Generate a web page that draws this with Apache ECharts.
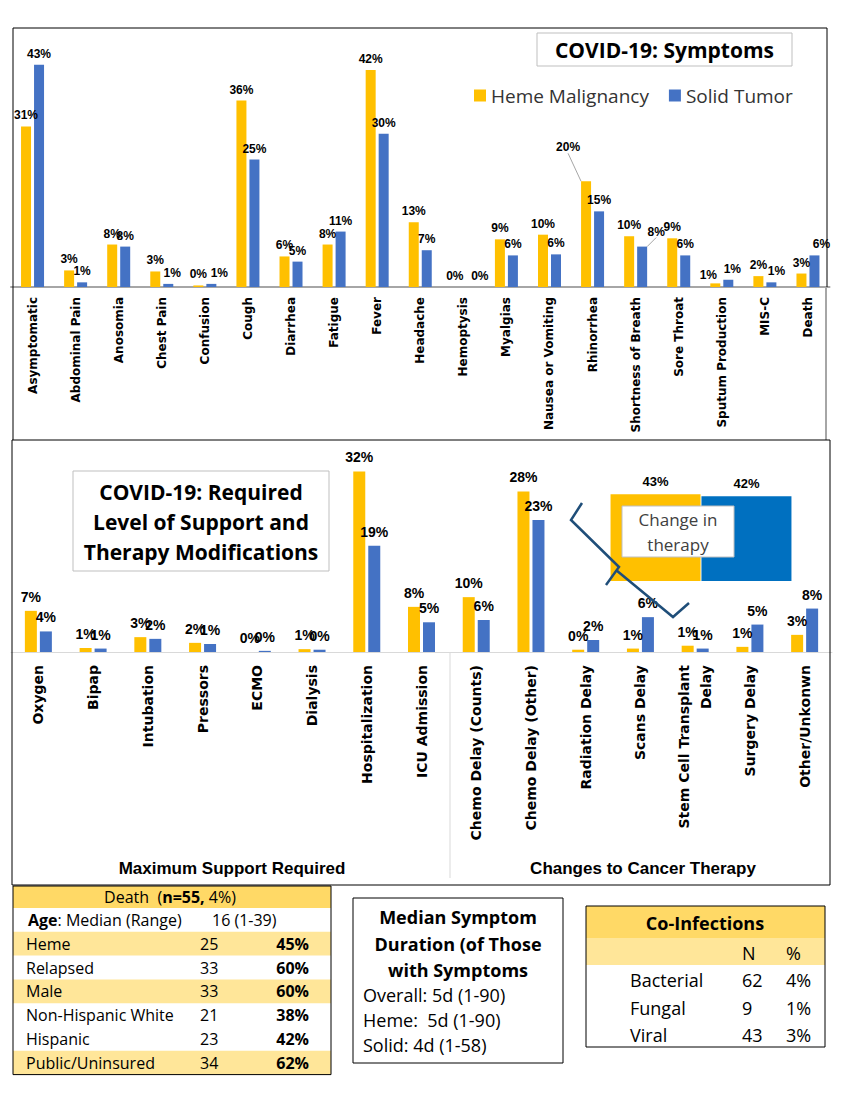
<!DOCTYPE html>
<html><head><meta charset="utf-8">
<script src="https://cdn.jsdelivr.net/npm/echarts@6/dist/echarts.min.js"></script>
<style>html,body{margin:0;padding:0;background:#fff}#c{width:842px;height:1100px}</style>
</head><body><div id="c"></div>
<script>
// ---------- data ----------
const seriesNames = ['Heme Malignancy', 'Solid Tumor'];
const symptomCats = ['Asymptomatic','Abdominal Pain','Anosomia','Chest Pain','Confusion','Cough','Diarrhea','Fatigue','Fever','Headache','Hemoptysis','Myalgias','Nausea or Vomiting','Rhinorrhea','Shortness of Breath','Sore Throat','Sputum Production','MIS-C','Death'];
const symptomHeme  = [31, 3.2, 8.2, 3, 0.3, 36, 5.9, 8.2, 41.9, 12.5, 0, 9.2, 10.1, 20.4, 9.8, 9.4, 0.7, 2.1, 2.6];
const symptomSolid = [42.9, 0.9, 7.8, 0.6, 0.6, 24.6, 4.9, 10.7, 29.6, 7.1, 0, 6.1, 6.3, 14.6, 7.8, 6.1, 1.4, 0.9, 6.1];

const supportCats  = ['Oxygen','Bipap','Intubation','Pressors','ECMO','Dialysis','Hospitalization','ICU Admission'];
const supportHeme  = [7.2, 0.7, 2.6, 1.6, 0, 0.5, 31.6, 7.9];
const supportSolid = [3.6, 0.6, 2.3, 1.4, 0.2, 0.4, 18.6, 5.2];
const therapyCats  = ['Chemo Delay (Counts)','Chemo Delay (Other)','Radiation Delay','Scans Delay','Stem Cell Transplant\nDelay','Surgery Delay','Other/Unkonwn'];
const therapyHeme  = [9.6, 28.1, 0.4, 0.6, 1.1, 0.9, 3.0];
const therapySolid = [5.6, 23.1, 2.1, 6.1, 0.6, 4.8, 7.6];
const groupLabels  = ['Maximum Support Required', 'Changes to Cancer Therapy'];

const changeCats  = ['Change in therapy'];
const changeHeme  = [43];
const changeSolid = [42];
const changeLabel = 'Change in\ntherapy';

const titleTop = 'COVID-19: Symptoms';
const titleBottom = ['COVID-19: Required', 'Level of Support and', 'Therapy Modifications'];

const deathHeader = ['Death  (', 'n=55,', ' 4%)'];
const deathAge = ['Age', ': Median (Range)', '16 (1-39)'];
const deathRows = [
  ['Heme', 25, '45%'],
  ['Relapsed', 33, '60%'],
  ['Male', 33, '60%'],
  ['Non-Hispanic White', 21, '38%'],
  ['Hispanic', 23, '42%'],
  ['Public/Uninsured', 34, '62%']
];
const medianTitle = ['Median Symptom', 'Duration (of Those', 'with Symptoms'];
const medianLines = ['Overall: 5d (1-90)', 'Heme:  5d (1-90)', 'Solid: 4d (1-58)'];
const coTitle = 'Co-Infections';
const coHeader = ['N', '%'];
const coRows = [
  ['Bacterial', 62, '4%'],
  ['Fungal', 9, '1%'],
  ['Viral', 43, '3%']
];

// ---------- styles ----------
const YEL = '#FFC000', BLU = '#4472C4', BLU2 = '#0070C0';
const pct = p => Math.round(p.value) + '%';
const OS = 'Open Sans';

// label nudges (as Excel placed them), by data index
const hemeNudge  = {10: {dx: -2}, 13: {dx: -18, dy: -23}, 16: {dx: -7, dy: 3}};
const solidNudge = {3: {dx: 4}, 4: {dx: 8}, 10: {dx: 10}, 14: {dx: 14, dy: -4}, 16: {dx: 4}, 17: {dx: 5}, 18: {dx: 7}};

const chart = echarts.init(document.getElementById('c'), null, {renderer: 'svg'});

function topData(arr, idx) {
  return arr.map((v, i) => i === idx ? {value: v, labelLine: {show: true, lineStyle: {color: '#a6a6a6', width: 1}}} : v);
}

const g = [];
function rect(x, y, w, h, fill, stroke, lw) {
  g.push({type: 'rect', silent: true, z: 100, shape: {x, y, width: w, height: h},
    style: {fill: fill || 'none', stroke: stroke || 'none', lineWidth: lw || 1}});
}
function line(x1, y1, x2, y2, stroke, lw) {
  g.push({type: 'line', silent: true, z: 100, shape: {x1, y1, x2, y2}, style: {stroke, lineWidth: lw || 1}});
}
function text(str, x, y, size, weight, align, color, family) {
  g.push({type: 'text', silent: true, z: 102, x, y,
    style: {text: str, fontSize: size, fontWeight: weight || 'normal', fontFamily: family || OS,
      fill: color || '#000', align: align || 'left', verticalAlign: 'middle',
      textAlign: align || 'left', textVerticalAlign: 'middle'}});
}
function rich(str, x, y, align, richDef) {
  g.push({type: 'text', silent: true, z: 102, x, y,
    style: {text: str, rich: richDef, fill: '#000', align: align, verticalAlign: 'middle',
      textAlign: align, textVerticalAlign: 'middle'}});
}

// panel boxes
line(13, 28, 827, 28, '#000');
line(13, 28, 13, 440, '#000');
line(827, 28, 827, 287, '#000');
line(826, 287, 826, 440, '#a6a6a6', 2);
rect(12, 440, 818, 445, 'none', '#000');
// top title
rect(537, 33, 255, 33, '#fff', '#bfbfbf');
text(titleTop, 664.5, 50, 21, 'bold', 'center');
// bottom title
rect(73, 471, 256, 100, '#fff', '#bfbfbf');
titleBottom.forEach((t, i) => text(t, 201, 492 + i * 30, 21, 'bold', 'center'));
// separator & group labels
line(450, 653, 450, 878, '#d9d9d9', 1);
text(groupLabels[0], 232, 868, 17, 'bold', 'center', '#000', 'Liberation Sans');
text(groupLabels[1], 643, 868, 17, 'bold', 'center', '#000', 'Liberation Sans');
// change in therapy box
rect(622, 506, 112, 51, '#fff', '#bfbfbf');
text(changeLabel.split('\n')[0], 678, 519, 17, 'normal', 'center', '#404040');
text(changeLabel.split('\n')[1], 678, 544, 17, 'normal', 'center', '#404040');
// hand-drawn annotation
g.push({type: 'polyline', silent: true, z: 103, shape: {points: [[582, 503], [571, 520], [619, 567], [606, 585]]},
  style: {stroke: '#1F4E79', lineWidth: 2.5, fill: null}});
g.push({type: 'polyline', silent: true, z: 103, shape: {points: [[616, 570], [673, 617], [689, 603]]},
  style: {stroke: '#1F4E79', lineWidth: 2.5, fill: null}});

// death table
const dx0 = 13, dw = 318, dTop = 886, dHead = 22, rowH = 23.8;
rect(dx0, dTop, dw, dHead, '#FFD966');
const shaded = [false, true, false, true, false, false, true];
for (let i = 0; i < 7; i++) {
  if (shaded[i]) rect(dx0, dTop + dHead + i * rowH, dw, rowH, '#FFE699');
}
rect(dx0, dTop, dw, dHead + 7 * rowH, 'none', '#000');
const rA = {a: {fontSize: 16, fontFamily: OS, fill: '#000'}, b: {fontSize: 16, fontFamily: OS, fontWeight: 'bold', fill: '#000'}};
rich('{a|' + deathHeader[0] + '}{b|' + deathHeader[1] + '}{a|' + deathHeader[2] + '}', 170, dTop + dHead / 2, 'center', rA);
const ageY = dTop + dHead + rowH / 2;
rich('{b|' + deathAge[0] + '}{a|' + deathAge[1] + '}', 28, ageY, 'left', rA);
text(deathAge[2], 212, ageY, 16);
deathRows.forEach((r, i) => {
  const y = dTop + dHead + (i + 1) * rowH + rowH / 2;
  text(r[0], 26, y, 16);
  text(String(r[1]), 200, y, 16);
  text(r[2], 309, y, 16, 'bold', 'right');
});

// median box
rect(353, 898, 210, 165, '#fff', '#000');
medianTitle.forEach((t, i) => text(t, 458, 917 + i * 26.5, 18, 'bold', 'center'));
medianLines.forEach((t, i) => text(t, 363, 995 + i * 25, 18));

// co-infections
const cx0 = 586, cw = 239;
rect(cx0, 906, cw, 32, '#FFD966');
rect(cx0, 938, cw, 27, '#FFE699');
rect(cx0, 906, cw, 141, 'none', '#000');
text(coTitle, 705, 923, 18, 'bold', 'center');
text(coHeader[0], 742, 953, 18);
text(coHeader[1], 786, 953, 18);
coRows.forEach((r, i) => {
  const y = 980 + i * 27.5;
  text(r[0], 630, y, 18);
  text(String(r[1]), 742, y, 18);
  text(r[2], 786, y, 18);
});

const topLabel = {show: true, position: 'top', distance: 5, fontFamily: 'Liberation Sans', fontWeight: 'bold', fontSize: 12, color: '#000', formatter: pct};
const botLabel = {show: true, position: 'top', distance: 7, fontFamily: 'Liberation Sans', fontWeight: 'bold', fontSize: 14, color: '#000', formatter: pct};

const option = {
  backgroundColor: '#fff',
  animation: false,
  legend: {
    data: seriesNames, left: 469, top: 81, itemWidth: 12, itemHeight: 12, itemGap: 20, icon: 'rect',
    textStyle: {fontFamily: OS, fontSize: 19, color: '#333'}
  },
  grid: [
    {left: 11, right: 12.5, top: 28, bottom: 1100 - 287},
    {left: 11, right: 10, top: 452, bottom: 1100 - 652},
    {left: 610, width: 182, top: 480, height: 101}
  ],
  xAxis: [
    {type: 'category', gridIndex: 0, data: symptomCats,
      axisLine: {lineStyle: {color: '#a6a6a6', width: 2}}, axisTick: {show: false},
      axisLabel: {interval: 0, rotate: 90, margin: 10, fontFamily: 'DejaVu Sans', fontWeight: 'bold', fontSize: 12, color: '#000'}},
    {type: 'category', gridIndex: 1, data: supportCats.concat(therapyCats),
      axisLine: {lineStyle: {color: '#d9d9d9', width: 1}}, axisTick: {show: false},
      axisLabel: {interval: 0, rotate: 90, margin: 13, lineHeight: 22, fontFamily: 'DejaVu Sans', fontWeight: 'bold', fontSize: 14, color: '#000'}},
    {type: 'category', gridIndex: 2, data: changeCats, show: false}
  ],
  yAxis: [
    {type: 'value', gridIndex: 0, min: 0, max: 50, show: false, splitLine: {show: false}},
    {type: 'value', gridIndex: 1, min: 0, max: 35, show: false, splitLine: {show: false}},
    {type: 'value', gridIndex: 2, min: 0, max: 50, show: false, splitLine: {show: false}}
  ],
  series: [
    {name: seriesNames[0], type: 'bar', xAxisIndex: 0, yAxisIndex: 0, data: topData(symptomHeme, 13),
      barWidth: 10, barGap: '30%', itemStyle: {color: YEL}, label: topLabel,
      labelLayout: p => hemeNudge[p.dataIndex] || {}},
    {name: seriesNames[1], type: 'bar', xAxisIndex: 0, yAxisIndex: 0, data: topData(symptomSolid, 14),
      barWidth: 10, barGap: '30%', itemStyle: {color: BLU}, label: topLabel,
      labelLayout: p => solidNudge[p.dataIndex] || {}},
    {name: seriesNames[0], type: 'bar', xAxisIndex: 1, yAxisIndex: 1, data: supportHeme.concat(therapyHeme),
      barWidth: 12, barGap: '25%', itemStyle: {color: YEL}, label: botLabel},
    {name: seriesNames[1], type: 'bar', xAxisIndex: 1, yAxisIndex: 1, data: supportSolid.concat(therapySolid),
      barWidth: 12, barGap: '25%', itemStyle: {color: BLU}, label: botLabel},
    {name: 'Change Heme', type: 'bar', xAxisIndex: 2, yAxisIndex: 2, data: changeHeme,
      barWidth: 90, barGap: '1%', itemStyle: {color: YEL},
      label: {show: true, position: 'top', distance: 6, fontFamily: 'Liberation Sans', fontWeight: 'bold', fontSize: 13, color: '#000', formatter: pct}},
    {name: 'Change Solid', type: 'bar', xAxisIndex: 2, yAxisIndex: 2, data: changeSolid,
      barWidth: 90, barGap: '1%', itemStyle: {color: BLU2},
      label: {show: true, position: 'top', distance: 6, fontFamily: 'Liberation Sans', fontWeight: 'bold', fontSize: 13, color: '#000', formatter: pct}}
  ],
  graphic: {elements: g}
};
chart.setOption(option);
</script></body></html>
